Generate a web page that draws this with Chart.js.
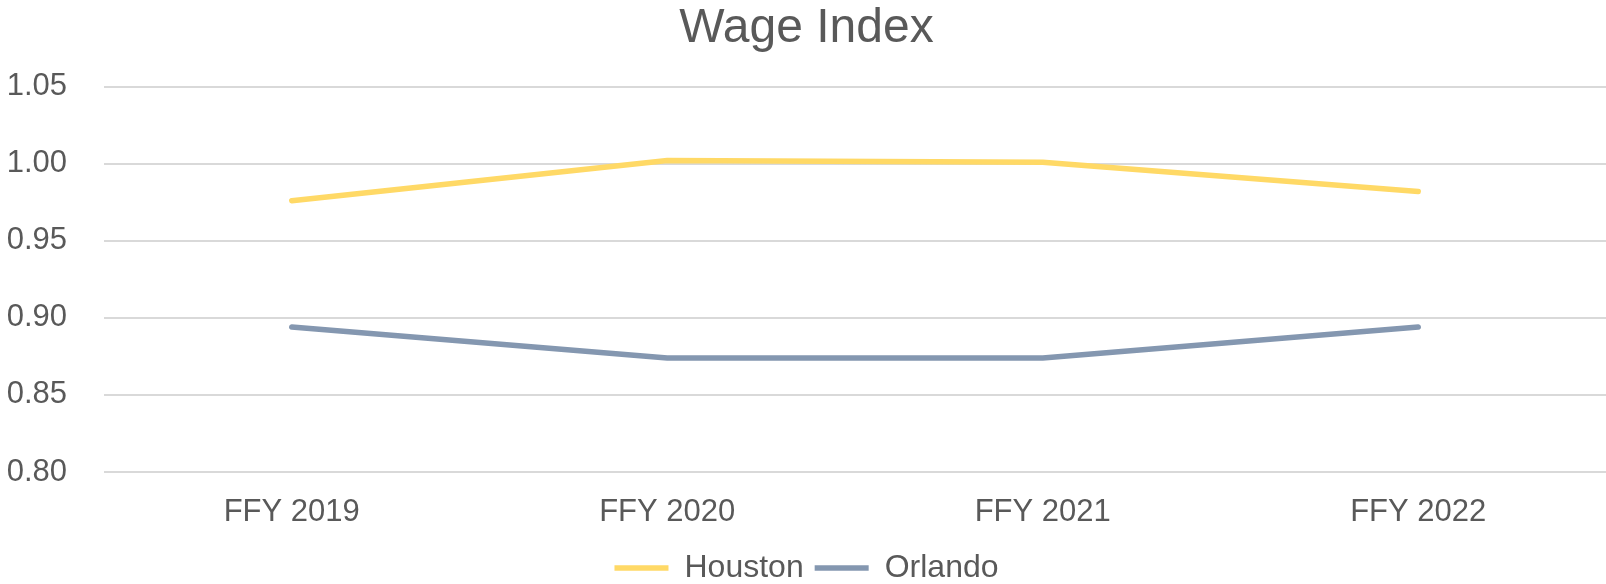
<!DOCTYPE html>
<html>
<head>
<meta charset="utf-8">
<script src="https://cdn.jsdelivr.net/npm/chart.js@4"></script>
<style>
  html, body { margin: 0; padding: 0; background: #fff; }
  #wrap { width: 1606px; height: 584px; }
</style>
</head>
<body>
<div id="wrap"><canvas id="chart" width="1606" height="584"></canvas></div>
<script>
'use strict'

const years = ['FFY 2019', 'FFY 2020', 'FFY 2021', 'FFY 2022'];
const houston = [0.976, 1.002, 1.001, 0.982];
const orlando = [0.894, 0.874, 0.874, 0.894];
const yTicks = [0.80, 0.85, 0.90, 0.95, 1.00, 1.05];

const grey = '#595959';
const font = '"Liberation Sans", Arial, sans-serif';

const ctx = document.getElementById('chart').getContext('2d');

const myChart = new Chart(ctx, {
    type: 'line',
    data: {
        labels: years,
        datasets: [{
            label: 'Houston',
            data: houston,
            borderColor: '#FFD966',
            backgroundColor: '#FFD966',
            borderWidth: 5.5,
            borderCapStyle: 'round',
            borderJoinStyle: 'round',
            pointRadius: 0,
            tension: 0,
        }, {
            label: 'Orlando',
            data: orlando,
            borderColor: '#8497B0',
            backgroundColor: '#8497B0',
            borderWidth: 5.5,
            borderCapStyle: 'round',
            borderJoinStyle: 'round',
            pointRadius: 0,
            tension: 0,
        }]
    },
    options: {
        responsive: false,
        animation: false,
        layout: { padding: { left: 7, right: 0, top: 0, bottom: -10 } },
        plugins: {
            title: {
                display: true,
                text: 'Wage Index',
                color: grey,
                font: { family: font, size: 48, weight: 'normal' },
                padding: { top: 0, bottom: 29 }
            },
            legend: {
                position: 'bottom',
                labels: {
                    color: grey,
                    font: { family: font, size: 32 },
                    usePointStyle: true,
                    pointStyle: 'line',
                    pointStyleWidth: 54,
                    padding: 11
                }
            },
            tooltip: { enabled: false }
        },
        scales: {
            x: {
                offset: true,
                clip: false,
                grid: { display: false, drawTicks: false },
                border: { display: false },
                afterFit: axis => { axis.height = 69; },
                ticks: {
                    color: grey,
                    font: { family: font, size: 31 },
                    padding: 22,
                    maxRotation: 0
                }
            },
            y: {
                min: 0.80,
                max: 1.05,
                afterBuildTicks: axis => { axis.ticks = yTicks.map(v => ({ value: v })); },
                afterFit: axis => { axis.width = 97; },
                grid: { color: '#D9D9D9', lineWidth: 2, drawTicks: false },
                border: { display: false },
                ticks: {
                    color: grey,
                    font: { family: font, size: 31 },
                    padding: 37,
                    callback: v => v.toFixed(2)
                }
            }
        }
    }
});
</script>
</body>
</html>
